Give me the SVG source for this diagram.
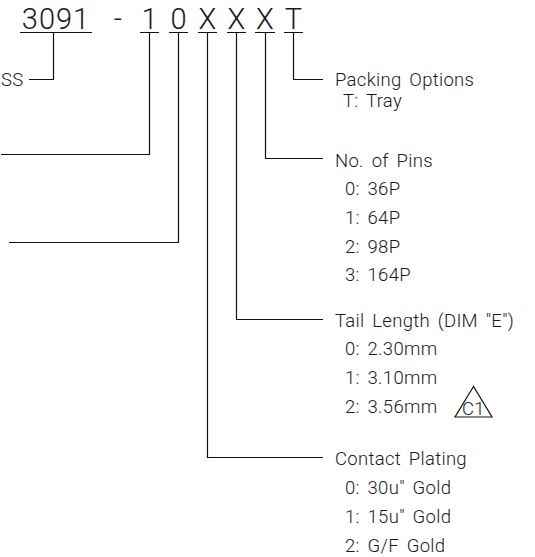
<svg xmlns="http://www.w3.org/2000/svg" width="535" height="557" viewBox="0 0 535 557">
<style>
  .ln{stroke:#111;stroke-width:1.2;fill:none}
  .t{font-family:Roboto,"Liberation Sans",sans-serif;font-weight:300;font-size:18.5px;fill:#1a1a1a;word-spacing:3px;letter-spacing:0.3px}
  .big{font-family:Roboto,"Liberation Sans",sans-serif;font-weight:300;font-size:29px;fill:#1a1a1a}
</style>
<rect width="535" height="557" fill="#fff"/>
<g id="title">
  <text class="big" x="56" y="28.5" text-anchor="middle" letter-spacing="1">3091</text>
  <text class="big" x="118" y="28.5" text-anchor="middle">-</text>
  <text class="big" x="149.5" y="28.5" text-anchor="middle">1</text>
  <text class="big" x="178.5" y="28.5" text-anchor="middle">0</text>
  <text class="big" x="207.5" y="28.5" text-anchor="middle">X</text>
  <text class="big" x="236.5" y="28.5" text-anchor="middle">X</text>
  <text class="big" x="265" y="28.5" text-anchor="middle">X</text>
  <text class="big" x="293.5" y="28.5" text-anchor="middle">T</text>
  <path class="ln" d="M20 32.5H92M140 32.5H159M169 32.5H188M198 32.5H217M227 32.5H246M255 32.5H275M284 32.5H303"/>
</g>
<g id="connectors">
  <path class="ln" d="M53.5 32.5V79.5H29"/>
  <path class="ln" d="M149.5 32.5V154.5H1"/>
  <path class="ln" d="M178.5 32.5V242.5H9"/>
  <path class="ln" d="M207.5 32.5V457.5H323"/>
  <path class="ln" d="M236.5 32.5V319.5H323"/>
  <path class="ln" d="M265.5 32.5V158.5H323"/>
  <path class="ln" d="M293.5 32.5V79.5H323"/>
</g>
<g id="series">
  <text class="t" x="1" y="85.5" letter-spacing="0">SS</text>
</g>
<g id="packing">
  <text class="t" x="335" y="86">Packing Options</text>
  <text class="t" x="343" y="107">T: Tray</text>
</g>
<g id="pins">
  <text class="t" x="335" y="166.5">No. of Pins</text>
  <text class="t" x="345" y="195">0: 36P</text>
  <text class="t" x="345" y="224">1: 64P</text>
  <text class="t" x="345" y="252.5">2: 98P</text>
  <text class="t" x="345" y="281">3: 164P</text>
</g>
<g id="tail">
  <text class="t" x="335" y="326.5">Tail Length (DIM "E")</text>
  <text class="t" x="345" y="355">0: 2.30mm</text>
  <text class="t" x="345" y="384">1: 3.10mm</text>
  <text class="t" x="345" y="412.5">2: 3.56mm</text>
  <path class="ln" d="M473.5 386.5L455 417H492Z"/>
  <text class="t" x="473.5" y="414.5" text-anchor="middle" letter-spacing="0">C1</text>
</g>
<g id="plating">
  <text class="t" x="335" y="465">Contact Plating</text>
  <text class="t" x="345" y="494">0: 30u" Gold</text>
  <text class="t" x="345" y="523">1: 15u" Gold</text>
  <text class="t" x="345" y="552">2: G/F Gold</text>
</g>
</svg>
